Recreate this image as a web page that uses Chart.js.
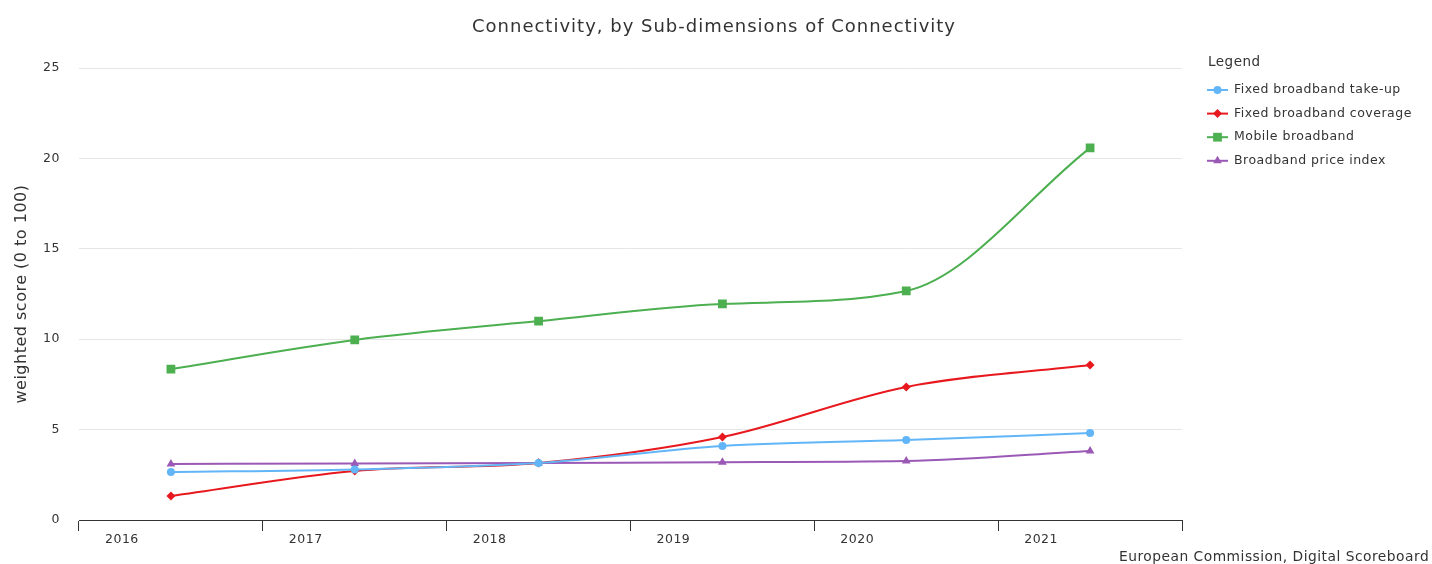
<!DOCTYPE html>
<html>
<head>
<meta charset="utf-8">
<script src="https://cdn.jsdelivr.net/npm/chart.js@4/dist/chart.umd.min.js"></script>
<style>
  html, body { margin: 0; padding: 0; background: #fff; }
  #wrap { width: 1432px; height: 564px; }
</style>
</head>
<body>
<div id="wrap"><canvas id="connChart" width="1432" height="564"></canvas></div>
<script>
// Data
const years = ['2016', '2017', '2018', '2019', '2020', '2021'];
const fixedTakeUp = [2.65, 2.8, 3.15, 4.09, 4.42, 4.81];
const fixedCoverage = [1.33, 2.71, 3.15, 4.59, 7.36, 8.57];
const mobileBroadband = [8.35, 9.96, 11.0, 11.95, 12.67, 20.58];
const priceIndex = [3.1, 3.12, 3.15, 3.2, 3.26, 3.82];
const yTicks = [0, 5, 10, 15, 20, 25];

const FONT = '"DejaVu Sans", Verdana, sans-serif';
const TEXT = '#333333';

const seriesList = [
    { label: 'Fixed broadband take-up', data: fixedTakeUp, color: '#62b6f7', style: 'circle', r: 4 },
    { label: 'Fixed broadband coverage', data: fixedCoverage, color: '#e8191e', style: 'rectRot', r: 4.5 },
    { label: 'Mobile broadband', data: mobileBroadband, color: '#4caf50', style: 'rect', r: 6.2 },
    { label: 'Broadband price index', data: priceIndex, color: '#9b59b6', style: 'triangle', r: 5 }
];

// Title, legend box and credit text
const extrasPlugin = {
    id: 'extras',
    beforeDraw(chart) {
        // the reference font is a bit wider than DejaVu, so space the letters out
        chart.ctx.letterSpacing = '0.5px';
    },
    afterDraw(chart) {
        const c = chart.ctx;
        c.save();
        c.fillStyle = TEXT;
        c.font = '18px ' + FONT;
        c.letterSpacing = '1px';
        c.textAlign = 'center';
        c.textBaseline = 'middle';
        c.fillText('Connectivity, by Sub-dimensions of Connectivity', 714, 27);

        c.letterSpacing = '0.5px';
        c.textAlign = 'left';
        c.font = '13.5px ' + FONT;
        c.fillText('Legend', 1208, 62);

        c.font = '12.5px ' + FONT;
        seriesList.forEach((s, i) => {
            const y = 90 + i * 23.6;
            c.strokeStyle = s.color;
            c.lineWidth = 2;
            c.beginPath();
            c.moveTo(1207, y);
            c.lineTo(1228, y);
            c.stroke();
            c.fillStyle = s.color;
            Chart.helpers.drawPoint(c, { pointStyle: s.style, radius: s.r, borderWidth: 0 }, 1217.5, y);
            c.fillStyle = TEXT;
            c.fillText(s.label, 1234, y);
        });

        c.font = '13.8px ' + FONT;
        c.fillText('European Commission, Digital Scoreboard', 1119, 557);
        c.restore();
    }
};

new Chart(document.getElementById('connChart').getContext('2d'), {
    type: 'line',
    data: {
        labels: years,
        datasets: seriesList.map(s => ({
            label: s.label,
            data: s.data,
            borderColor: s.color,
            backgroundColor: s.color,
            borderWidth: 2,
            pointStyle: s.style,
            pointRadius: s.r,
            pointBorderWidth: 0,
            cubicInterpolationMode: 'monotone',
            fill: false
        }))
    },
    options: {
        responsive: false,
        animation: false,
        layout: { padding: { top: 68, right: 250, bottom: 0, left: 0 } },
        plugins: {
            legend: { display: false },
            title: { display: false },
            tooltip: { enabled: false }
        },
        scales: {
            x: {
                offset: true,
                grid: {
                    offset: true,
                    drawOnChartArea: false,
                    drawTicks: true,
                    tickLength: 11,
                    color: '#333333'
                },
                border: { display: true, color: '#333333', width: 1 },
                ticks: {
                    color: TEXT,
                    font: { family: FONT, size: 12.5 },
                    padding: 1,
                    labelOffset: -49,
                    maxRotation: 0
                },
                afterFit(scale) { scale.height = 44; }
            },
            y: {
                min: 0,
                max: 25,
                afterBuildTicks(scale) { scale.ticks = yTicks.map(v => ({ value: v })); },
                grid: { color: '#e6e6e6', drawTicks: false },
                border: { display: false },
                ticks: {
                    color: TEXT,
                    font: { family: FONT, size: 12.5 },
                    padding: 19
                },
                title: {
                    display: true,
                    text: 'weighted score (0 to 100)',
                    color: TEXT,
                    font: { family: FONT, size: 16 },
                    padding: { top: 12, bottom: 0 }
                },
                afterFit(scale) { scale.width = 79; }
            }
        }
    },
    plugins: [extrasPlugin]
});
</script>
</body>
</html>
